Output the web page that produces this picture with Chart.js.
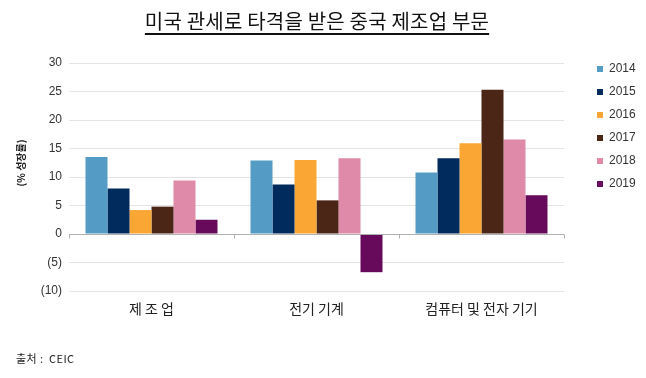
<!DOCTYPE html>
<html>
<head>
<meta charset="utf-8">
<script src="https://cdn.jsdelivr.net/npm/chart.js@4/dist/chart.umd.min.js"></script>
<style>
  html, body { margin: 0; padding: 0; background: #fff; }
  #wrap { position: relative; width: 646px; height: 378px; overflow: hidden; }
  #title { position: absolute; left: 0; width: 634px; top: 11px; text-align: center; line-height: 20px;
    font-family: "Noto Sans CJK KR", sans-serif; font-size: 20px; color: #111; letter-spacing: 0.2px;
    text-decoration: underline; text-underline-offset: 4px; text-decoration-thickness: 1.5px; }
  #src { position: absolute; left: 16px; top: 351px; line-height: 14px; font-family: "Noto Sans CJK KR", sans-serif; font-size: 11px; color: #222; letter-spacing: 0.4px; }
  canvas { position: absolute; left: 0; top: 0; }
</style>
</head>
<body>
<div id="wrap">
  <canvas id="c" width="646" height="378"></canvas>
  <div id="title">미국 관세로 타격을 받은 중국 제조업 부문</div>
  <div id="src">출처 :&nbsp; CEIC</div>
</div>
<script>
const categories = ["제 조 업", "전기 기계", "컴퓨터 및 전자 기기"];
const years = ["2014", "2015", "2016", "2017", "2018", "2019"];
const v2014 = [13.5, 12.9, 10.8];
const v2015 = [8.0, 8.7, 13.3];
const v2016 = [4.2, 13.0, 15.9];
const v2017 = [4.8, 5.9, 25.3];
const v2018 = [9.4, 13.3, 16.6];
const v2019 = [2.5, -6.7, 6.8];
const yTicks = [-10, -5, 0, 5, 10, 15, 20, 25, 30];
const yTitle = "(% 성장률)";

const colors = ["#549cc6", "#002b5c", "#faa635", "#4b2515", "#de8aa8", "#680a5b"];
const series = [v2014, v2015, v2016, v2017, v2018, v2019];

const zeroLine = {
  id: 'zeroLine',
  afterDatasetsDraw(chart) {
    const {ctx, chartArea, scales: {x, y}} = chart;
    const y0 = Math.round(y.getPixelForValue(0)) + 0.5;
    ctx.save();
    ctx.strokeStyle = '#b0b0b0';
    ctx.lineWidth = 1;
    ctx.beginPath();
    ctx.moveTo(chartArea.left, y0);
    ctx.lineTo(chartArea.right, y0);
    const n = x.ticks.length;
    const w = (chartArea.right - chartArea.left) / n;
    for (let i = 0; i <= n; i++) {
      const px = Math.round(chartArea.left + i * w) + 0.5;
      ctx.moveTo(px, y0);
      ctx.lineTo(px, y0 + 4);
    }
    ctx.stroke();
    ctx.restore();
  }
};

const yTitlePlugin = {
  id: 'yTitlePlugin',
  afterDraw(chart) {
    const {ctx} = chart;
    ctx.save();
    ctx.translate(21, 163);
    ctx.rotate(-Math.PI / 2);
    ctx.fillStyle = '#222';
    ctx.font = 'bold 10px "Noto Sans CJK KR", sans-serif';
    ctx.textAlign = 'center';
    ctx.textBaseline = 'middle';
    ctx.fillText(yTitle, 0, 0);
    ctx.restore();
  }
};

const legendMove = {
  id: 'legendMove',
  afterLayout(chart) {
    const lg = chart.legend;
    if (!lg) return;
    const h = lg.bottom - lg.top;
    const w = lg.right - lg.left;
    lg.left = 586; lg.right = 586 + w;
    lg.top = 52; lg.bottom = 52 + Math.max(h, 200);
  }
};

new Chart(document.getElementById('c'), {
  type: 'bar',
  data: {
    labels: categories,
    datasets: years.map((yr, i) => ({
      label: yr,
      data: series[i],
      backgroundColor: colors[i],
      borderWidth: 0,
      barPercentage: 1.0,
      categoryPercentage: 0.8
    }))
  },
  options: {
    responsive: false,
    animation: false,
    layout: { padding: { top: 63, right: 82, left: 0, bottom: 0 } },
    plugins: {
      legend: {
        position: 'chartArea',
        align: 'start',
        labels: {
          boxWidth: 6, boxHeight: 6, padding: 11,
          color: '#333',
          font: { family: 'Liberation Sans, Arial, sans-serif', size: 12 }
        }
      },
      tooltip: { enabled: false }
    },
    scales: {
      x: {
        grid: { display: false, drawTicks: false },
        border: { display: false },
        ticks: {
          padding: 9,
          color: '#222',
          font: { family: '"Noto Sans CJK KR", sans-serif', size: 14 }
        },
        afterFit(s) { s.height = 87; }
      },
      y: {
        min: -10, max: 30,
        afterBuildTicks(s) { s.ticks = yTicks.map(v => ({ value: v })); },
        grid: { color: '#e4e4e4', drawTicks: false },
        border: { display: false },
        ticks: {
          padding: 7,
          color: '#333',
          font: { family: 'Liberation Sans, Arial, sans-serif', size: 12 },
          callback: v => v < 0 ? '(' + Math.abs(v) + ')' : String(v)
        },
        afterFit(s) { s.width = 69; }
      }
    }
  },
  plugins: [zeroLine, yTitlePlugin, legendMove]
});
</script>
</body>
</html>
